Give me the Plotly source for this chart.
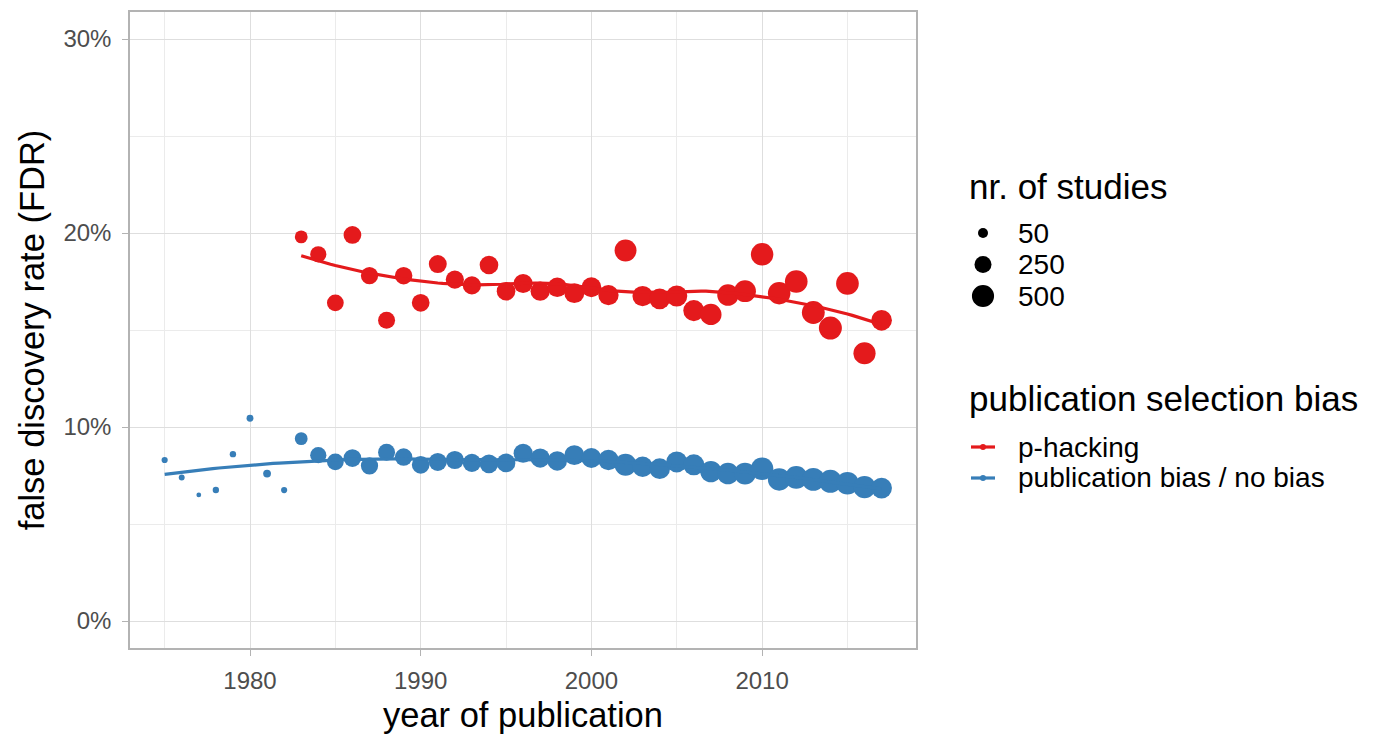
import numpy as np
import plotly.graph_objects as go

# Year of publication and number of studies per year
years = list(range(1975, 2018))
n_studies = [8, 7, 5, 9, 9, 12, 20, 8, 110, 220, 240, 280, 260, 250, 270,
             280, 290, 300, 300, 320, 320, 340, 350, 360, 380, 380, 400, 490,
             400, 420, 440, 440, 450, 460, 480, 520, 520, 530, 540, 550, 530,
             500, 420]

# False discovery rate (%) under publication bias / no bias (all years)
fdr_bias = [8.3, 7.4, 6.5, 6.75, 8.6, 10.45, 7.6, 6.75, 9.4, 8.55, 8.2, 8.4,
            8.0, 8.7, 8.45, 8.05, 8.2, 8.3, 8.15, 8.1, 8.15, 8.65, 8.4, 8.25,
            8.55, 8.4, 8.3, 8.05, 7.95, 7.85, 8.2, 8.05, 7.7, 7.6, 7.6, 7.85,
            7.3, 7.4, 7.3, 7.2, 7.1, 6.9, 6.85]

# False discovery rate (%) under p-hacking (from 1983 on)
phack_years = list(range(1983, 2018))
fdr_phack = [19.8, 18.9, 16.4, 19.9, 17.8, 15.5, 17.8, 16.4, 18.4, 17.6, 17.3,
             18.35, 17.0, 17.4, 17.0, 17.2, 16.9, 17.2, 16.8, 19.1, 16.75, 16.6,
             16.75, 16.0, 15.8, 16.8, 17.0, 18.9, 16.9, 17.5, 15.9, 15.1, 17.4,
             13.8, 15.5]

legend_sizes = [50, 250, 500]
y_ticks = [0, 10, 20, 30]
x_ticks = [1980, 1990, 2000, 2010]

RED = "#E41A1C"
BLUE = "#377EB8"


def dot_diameter(n):
    # area-style size scale: diameter grows with the square root of the count
    n = np.asarray(n, dtype=float)
    return 4.8 + 0.78 * np.sqrt(np.clip(n - 5, 0, None))


def loess(x, y, grid, span=0.75):
    # local quadratic regression with tricube weights (like R's loess)
    x = np.asarray(x, float)
    y = np.asarray(y, float)
    q = int(np.floor(len(x) * span))
    fit = []
    for x0 in grid:
        d = np.abs(x - x0)
        h = np.sort(d)[q - 1]
        u = d / h
        tw = np.where(u < 1, (1 - u ** 3) ** 3, 0.0)
        X = np.column_stack([np.ones_like(x), x - x0, (x - x0) ** 2])
        W = np.sqrt(tw)
        beta, *_ = np.linalg.lstsq(X * W[:, None], y * W, rcond=None)
        fit.append(beta[0])
    return np.array(fit)


n_by_year = dict(zip(years, n_studies))
n_phack = [n_by_year[yr] for yr in phack_years]

grid_bias = np.linspace(min(years), max(years), 120)
grid_phack = np.linspace(min(phack_years), max(phack_years), 120)
smooth_bias = loess(years, fdr_bias, grid_bias)
smooth_phack = loess(phack_years, fdr_phack, grid_phack)

fig = go.Figure()

fig.add_trace(go.Scatter(
    x=years, y=np.array(fdr_bias) / 100, mode="markers",
    marker=dict(color=BLUE, size=dot_diameter(n_studies), opacity=1,
                line=dict(width=0)),
    showlegend=False))
fig.add_trace(go.Scatter(
    x=phack_years, y=np.array(fdr_phack) / 100, mode="markers",
    marker=dict(color=RED, size=dot_diameter(n_phack), opacity=1,
                line=dict(width=0)),
    showlegend=False))
fig.add_trace(go.Scatter(
    x=grid_bias, y=smooth_bias / 100, mode="lines",
    line=dict(color=BLUE, width=3.2), showlegend=False))
fig.add_trace(go.Scatter(
    x=grid_phack, y=smooth_phack / 100, mode="lines",
    line=dict(color=RED, width=3.2), showlegend=False))

# plot panel in pixels
L, R, T, B = 130, 916, 12, 648
W_PX, H_PX = 1374, 734


def px(xpix):
    return (xpix - L) / (R - L)


def py(ypix):
    return (B - ypix) / (B - T)


FONT = "Liberation Sans, Arial, sans-serif"
annotations = []
shapes = []

# size legend
annotations.append(dict(text="nr. of studies", x=px(967), y=py(186),
                        xref="paper", yref="paper", xanchor="left",
                        yanchor="middle", showarrow=False,
                        font=dict(size=35, color="black", family=FONT)))
for i, s in enumerate(legend_sizes):
    yc = 233 + 31.5 * i
    r = float(dot_diameter(s)) / 2
    shapes.append(dict(type="circle", xref="paper", yref="paper",
                       xsizemode="pixel", ysizemode="pixel",
                       xanchor=px(983), yanchor=py(yc),
                       x0=-r, x1=r, y0=-r, y1=r,
                       fillcolor="black", line=dict(width=0)))
    annotations.append(dict(text=str(s), x=px(1016), y=py(yc),
                            xref="paper", yref="paper", xanchor="left",
                            yanchor="middle", showarrow=False,
                            font=dict(size=28, color="black", family=FONT)))

# colour legend
annotations.append(dict(text="publication selection bias", x=px(967),
                        y=py(398), xref="paper", yref="paper",
                        xanchor="left", yanchor="middle", showarrow=False,
                        font=dict(size=35, color="black", family=FONT)))
for i, (lab, col) in enumerate([("p-hacking", RED),
                                ("publication bias / no bias", BLUE)]):
    yc = 447 + 31 * i
    shapes.append(dict(type="line", xref="paper", yref="paper",
                       x0=px(971), x1=px(995), y0=py(yc), y1=py(yc),
                       line=dict(color=col, width=3.2)))
    shapes.append(dict(type="circle", xref="paper", yref="paper",
                       xsizemode="pixel", ysizemode="pixel",
                       xanchor=px(983), yanchor=py(yc),
                       x0=-3, x1=3, y0=-3, y1=3,
                       fillcolor=col, line=dict(width=0)))
    annotations.append(dict(text=lab, x=px(1016), y=py(yc), xref="paper",
                            yref="paper", xanchor="left", yanchor="middle",
                            showarrow=False,
                            font=dict(size=28, color="black", family=FONT)))

x_per_px = 10 / 170.7
y_per_px = 0.10 / 194.0

fig.update_layout(
    width=W_PX, height=H_PX,
    margin=dict(l=L, r=W_PX - R, t=T, b=H_PX - B, autoexpand=False),
    paper_bgcolor="white", plot_bgcolor="white",
    font=dict(family=FONT, color="black"),
    showlegend=False,
    annotations=annotations,
    shapes=shapes,
    xaxis=dict(
        range=[1980 - (250 - L) * x_per_px, 1980 + (R - 250) * x_per_px],
        tickvals=x_ticks, ticktext=[str(v) for v in x_ticks],
        ticks="outside", ticklen=6, tickcolor="#b3b3b3", tickwidth=1.2,
        ticklabelstandoff=4,
        tickfont=dict(size=24, color="#4d4d4d"),
        showgrid=True, gridcolor="#dedede", gridwidth=1.2,
        minor=dict(tickvals=[1975, 1985, 1995, 2005, 2015], showgrid=True,
                   gridcolor="#ebebeb", gridwidth=0.8, ticks=""),
        showline=True, linecolor="#b3b3b3", linewidth=1.5, mirror=True,
        zeroline=False, automargin=False,
        title=dict(text="year of publication", standoff=12,
                   font=dict(size=34.5, color="black")),
    ),
    yaxis=dict(
        range=[-(B - 621) * y_per_px, (621 - T) * y_per_px],
        tickvals=[v / 100 for v in y_ticks],
        ticktext=[f"{v}%" for v in y_ticks],
        ticks="outside", ticklen=6, tickcolor="#b3b3b3", tickwidth=1.2,
        ticklabelstandoff=6,
        tickfont=dict(size=24, color="#4d4d4d"),
        showgrid=True, gridcolor="#dedede", gridwidth=1.2,
        minor=dict(tickvals=[0.05, 0.15, 0.25], showgrid=True,
                   gridcolor="#ebebeb", gridwidth=0.8, ticks=""),
        showline=True, linecolor="#b3b3b3", linewidth=1.5, mirror=True,
        zeroline=False, automargin=False,
        title=dict(text="false discovery rate (FDR)", standoff=8,
                   font=dict(size=34.5, color="black")),
    ),
)

fig.write_html("out.html")
